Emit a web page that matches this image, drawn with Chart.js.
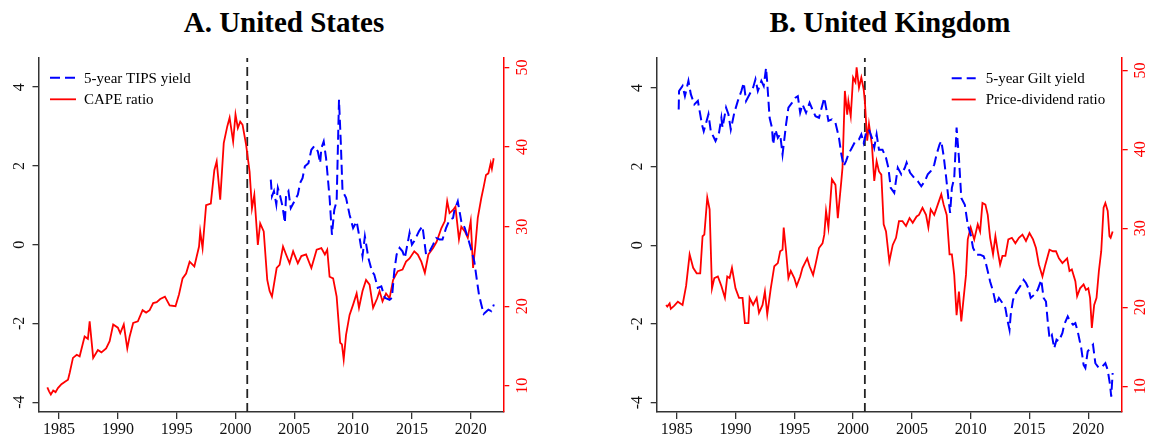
<!DOCTYPE html>
<html><head><meta charset="utf-8">
<script src="https://cdn.jsdelivr.net/npm/chart.js@4.4.0/dist/chart.umd.min.js"></script>
<style>
html,body{margin:0;padding:0;background:#fff;}
#wrap{position:relative;width:1149px;height:434px;overflow:hidden;background:#fff;}
.panel{position:absolute;top:0;height:434px;}
.title{position:absolute;top:6px;height:32px;line-height:32px;font:bold 29px "Liberation Serif",serif;color:#000;text-align:center;white-space:nowrap;}
</style></head><body>
<div id="wrap">
<div class="title" style="left:84px;width:400px">A. United States</div>
<div class="title" style="left:690px;width:400px">B. United Kingdom</div>
<div class="panel" style="left:0;width:580px"><canvas id="cA"></canvas></div>
<div class="panel" style="left:580px;width:569px"><canvas id="cB"></canvas></div>
</div>
<script>
// ---------- axis ticks ----------
const xTicks = [1985, 1990, 1995, 2000, 2005, 2010, 2015, 2020];
const leftTicks = [-4, -2, 0, 2, 4];
const rightTicks = [10, 20, 30, 40, 50];
const breakYear = 2001;

// ---------- Panel A: United States ----------
const usCapeYears = [1984.0,1984.15,1984.3,1984.5,1984.7,1984.9,1985.2,1985.5,1985.76,1985.9,1986.18,1986.5,1986.75,1987.17,1987.45,1987.6,1987.9,1988.3,1988.6,1989.0,1989.3,1989.6,1990.0,1990.2,1990.5,1990.8,1991.0,1991.3,1991.7,1992.1,1992.4,1992.7,1993.0,1993.3,1993.6,1994.0,1994.4,1994.9,1995.2,1995.5,1995.8,1996.1,1996.5,1996.9,1997.0,1997.2,1997.5,1997.9,1998.2,1998.4,1998.7,1999.0,1999.3,1999.5,1999.8,2000.0,2000.2,2000.4,2000.6,2000.9,2001.2,2001.4,2001.6,2001.9,2002.1,2002.4,2002.7,2002.9,2003.1,2003.5,2003.75,2004.04,2004.3,2004.6,2004.9,2005.3,2005.6,2006.0,2006.45,2006.9,2007.3,2007.6,2007.8,2008.0,2008.3,2008.6,2008.9,2009.05,2009.2,2009.4,2009.7,2010.0,2010.3,2010.5,2010.8,2011.1,2011.4,2011.7,2012.05,2012.25,2012.5,2012.8,2013.1,2013.4,2013.8,2014.2,2014.5,2014.8,2015.2,2015.5,2015.8,2016.1,2016.4,2016.8,2017.1,2017.5,2017.8,2018.0,2018.2,2018.5,2018.7,2019.0,2019.2,2019.5,2019.75,2020.0,2020.2,2020.4,2020.6,2020.9,2021.1,2021.3,2021.5,2021.7,2021.8,2021.95];
const usCape = [9.8,9.3,8.9,9.4,9.2,9.7,10.2,10.5,10.75,11.6,13.5,13.9,13.7,16.2,15.9,18.1,13.5,14.5,14.2,14.7,15.6,17.7,17.3,16.6,17.7,14.7,16.2,17.9,18.1,19.5,19.2,19.5,20.4,20.5,20.9,21.2,20.1,20.0,21.5,23.5,24.1,25.6,25.0,27.5,29.4,27.3,32.7,32.9,37.1,38.2,33.4,40.5,42.6,43.7,40.7,44.1,42.4,43.2,42.8,40.3,36.9,32.3,34.0,27.7,30.4,29.4,23.3,21.9,21.2,24.8,25.2,27.5,26.5,25.4,26.9,25.4,26.3,26.5,24.8,27.1,27.3,26.5,27.1,23.7,23.5,21.2,15.4,15.2,13.3,16.4,18.9,20.2,21.6,19.8,21.9,23.3,22.7,19.8,21.0,21.9,20.6,21.6,21.0,23.3,24.4,24.6,25.6,26.0,26.9,26.5,25.6,24.2,26.5,27.3,28.1,29.8,30.7,33.2,31.7,32.1,32.5,28.4,30.0,29.4,28.6,30.7,24.8,27.7,31.1,33.6,35.0,36.5,36.7,38.0,37.3,38.6];
const tipsYears = [2003.0,2003.1,2003.27,2003.47,2003.6,2003.8,2004.0,2004.2,2004.3,2004.5,2004.7,2005.0,2005.3,2005.5,2005.7,2005.9,2006.2,2006.45,2006.7,2007.0,2007.2,2007.3,2007.5,2007.7,2008.0,2008.2,2008.4,2008.6,2008.8,2008.95,2009.1,2009.4,2009.7,2010.0,2010.3,2010.55,2010.8,2011.0,2011.3,2011.6,2011.8,2012.1,2012.4,2012.7,2013.1,2013.3,2013.5,2013.7,2013.95,2014.2,2014.4,2014.8,2015.0,2015.2,2015.6,2015.9,2016.2,2016.5,2016.8,2017.05,2017.35,2017.6,2017.9,2018.2,2018.5,2018.6,2018.9,2019.2,2019.5,2019.8,2020.0,2020.3,2020.5,2020.7,2020.9,2021.1,2021.35,2021.5,2021.75,2021.97];
const tipsYield = [1.65,1.23,1.36,1.02,1.44,1.23,0.97,0.55,1.27,1.36,0.93,1.10,1.27,1.57,1.69,1.99,2.07,2.41,2.50,2.37,2.07,2.45,2.62,2.20,1.19,0.25,0.89,1.10,3.68,2.62,1.36,1.19,0.76,0.42,0.59,0.17,-0.29,0.21,-0.34,-0.68,-0.76,-1.10,-1.06,-1.35,-1.40,-1.35,-0.68,-0.25,-0.08,-0.17,-0.34,0.30,0.00,0.09,0.34,0.47,-0.25,-0.17,0.00,0.17,0.13,0.13,0.42,0.63,0.68,0.85,1.10,0.59,0.42,0.13,-0.08,-0.42,-0.85,-1.27,-1.52,-1.76,-1.69,-1.65,-1.69,-1.52];

// ---------- Panel B: United Kingdom ----------
const ukPdYears = [1984.1,1984.2,1984.4,1984.5,1984.8,1985.1,1985.5,1985.8,1986.1,1986.4,1986.7,1987.0,1987.2,1987.35,1987.6,1987.8,1988.0,1988.2,1988.5,1988.8,1989.1,1989.3,1989.5,1989.7,1990.0,1990.3,1990.6,1990.8,1991.1,1991.2,1991.5,1991.8,1992.0,1992.3,1992.5,1992.7,1993.0,1993.3,1993.6,1993.8,1994.0,1994.1,1994.3,1994.5,1994.7,1995.0,1995.2,1995.5,1995.7,1996.1,1996.3,1996.6,1996.8,1997.1,1997.4,1997.55,1997.7,1997.9,1998.2,1998.5,1998.7,1999.0,1999.1,1999.3,1999.5,1999.6,1999.8,2000.0,2000.2,2000.3,2000.5,2000.7,2000.9,2001.0,2001.2,2001.35,2001.6,2001.8,2002.0,2002.2,2002.4,2002.6,2002.8,2003.08,2003.37,2003.65,2003.9,2004.2,2004.5,2004.8,2005.07,2005.4,2005.6,2005.9,2006.2,2006.4,2006.6,2006.9,2007.2,2007.5,2007.7,2007.96,2008.2,2008.4,2008.6,2008.8,2009.0,2009.2,2009.4,2009.6,2009.75,2010.0,2010.3,2010.6,2010.8,2011.0,2011.25,2011.45,2011.65,2011.9,2012.1,2012.3,2012.5,2012.7,2012.95,2013.2,2013.5,2013.8,2014.1,2014.4,2014.7,2015.0,2015.3,2015.55,2015.8,2016.1,2016.35,2016.7,2017.0,2017.25,2017.5,2017.8,2018.2,2018.4,2018.6,2018.9,2019.05,2019.3,2019.6,2019.8,2020.0,2020.15,2020.3,2020.5,2020.7,2020.9,2021.1,2021.3,2021.45,2021.65,2021.8,2021.9,2022.07];
const ukPd = [20.3,20.1,20.5,19.8,20.2,20.7,20.3,22.7,26.7,25.0,24.3,24.3,29.0,29.2,33.9,32.4,22.4,23.7,23.9,22.7,21.2,23.9,23.7,25.0,22.4,21.2,21.2,18.0,18.0,21.2,20.3,21.2,19.3,20.3,22.0,19.1,22.4,25.2,25.6,27.1,27.3,30.1,27.1,23.7,24.6,23.7,22.7,23.9,25.0,26.2,25.2,24.1,25.4,27.5,28.1,29.2,32.2,30.1,36.2,35.5,31.3,36.0,37.7,47.4,44.4,46.1,44.2,49.1,48.5,50.4,47.8,49.1,47.6,46.1,41.1,43.2,40.6,36.0,38.5,37.2,36.8,30.5,29.6,25.8,27.9,28.8,30.9,30.9,30.3,31.3,30.7,31.5,31.7,32.6,31.7,30.1,32.4,31.7,33.0,34.3,33.0,31.7,26.7,26.7,24.1,19.0,22.0,18.2,21.2,24.1,28.6,30.1,28.6,30.5,29.6,33.2,33.0,31.7,28.8,26.7,29.0,27.1,25.4,26.5,26.5,28.6,28.8,28.1,28.8,29.2,28.4,29.4,28.6,27.5,25.4,23.9,25.4,27.3,27.1,27.1,26.2,25.6,26.2,24.6,24.8,23.3,21.4,22.4,22.9,22.2,22.4,21.2,17.4,20.3,21.2,24.6,27.1,32.6,33.2,32.2,29.0,28.8,29.6];
const giltYears = [1985.17,1985.2,1985.5,1985.7,1986.0,1986.2,1986.5,1986.8,1987.15,1987.3,1987.5,1987.7,1987.9,1988.3,1988.6,1988.8,1988.9,1989.2,1989.4,1989.6,1989.9,1990.2,1990.5,1990.7,1990.9,1991.2,1991.5,1991.7,1991.9,1992.2,1992.4,1992.6,1992.7,1992.9,1993.1,1993.2,1993.4,1993.6,1993.8,1994.0,1994.3,1994.5,1994.8,1995.1,1995.3,1995.5,1995.7,1996.0,1996.3,1996.6,1996.8,1997.1,1997.4,1997.55,1997.7,1997.9,1998.2,1998.5,1998.8,1999.0,1999.2,1999.4,1999.6,1999.9,2000.2,2000.5,2000.7,2000.9,2001.1,2001.35,2001.6,2001.8,2002.0,2002.2,2002.5,2002.8,2003.0,2003.2,2003.5,2003.8,2004.1,2004.4,2004.55,2004.85,2005.2,2005.5,2005.8,2006.1,2006.35,2006.6,2006.9,2007.1,2007.35,2007.5,2007.7,2007.9,2008.1,2008.25,2008.4,2008.6,2008.8,2009.0,2009.2,2009.5,2009.75,2010.0,2010.2,2010.5,2010.8,2011.1,2011.25,2011.45,2011.65,2011.9,2012.15,2012.4,2012.7,2012.95,2013.15,2013.3,2013.4,2013.6,2013.85,2014.1,2014.3,2014.5,2014.7,2014.9,2015.1,2015.4,2015.7,2016.0,2016.2,2016.4,2016.55,2016.7,2016.9,2017.1,2017.3,2017.5,2017.8,2017.95,2018.25,2018.45,2018.7,2018.9,2019.1,2019.4,2019.6,2019.75,2019.95,2020.15,2020.4,2020.6,2020.9,2021.2,2021.45,2021.65,2021.85,2021.95,2022.07];
const giltYield = [3.45,3.92,4.05,3.79,4.18,3.84,3.58,3.67,3.07,2.90,3.11,3.33,2.90,2.65,2.86,3.24,2.99,3.50,3.33,2.94,3.37,3.67,3.92,4.13,3.67,3.84,4.01,4.22,3.92,4.18,4.05,4.51,4.13,3.24,2.99,2.56,2.94,2.73,2.82,2.31,3.07,3.50,3.62,3.75,3.79,3.37,3.58,3.37,3.62,3.41,3.28,3.24,3.58,3.75,3.50,3.16,3.20,3.11,2.73,2.31,2.01,2.14,2.31,2.48,2.65,2.69,2.82,2.60,2.86,2.94,2.73,2.48,2.82,2.43,2.43,2.22,1.97,1.46,1.33,1.97,1.80,1.97,2.10,1.84,1.71,1.63,1.50,1.63,1.80,1.88,2.05,2.31,2.56,2.65,2.27,1.76,1.20,0.82,1.46,1.71,2.99,2.22,1.20,1.03,0.52,0.27,-0.07,-0.24,-0.24,-0.28,-0.41,-0.66,-0.92,-1.17,-1.51,-1.34,-1.47,-1.60,-1.94,-2.15,-1.77,-1.39,-1.21,-1.09,-1.00,-0.88,-0.96,-1.09,-1.34,-1.26,-1.13,-0.88,-1.34,-1.43,-1.94,-2.36,-2.28,-2.62,-2.40,-2.44,-2.23,-2.02,-1.81,-1.94,-2.02,-1.98,-2.19,-2.62,-3.04,-3.12,-2.70,-2.62,-2.53,-3.00,-3.12,-3.08,-3.00,-3.17,-3.55,-3.85,-3.25];

// ---------- helpers ----------
function pts(xs, ys) { return xs.map((x, i) => ({ x: x, y: ys[i] })); }
const SERIF = '"Liberation Serif", "Times New Roman", serif';

const insideLegend = {
  id: 'insideLegend',
  afterDatasetsDraw(chart, args, o) {
    const ctx = chart.ctx;
    ctx.save();
    ctx.font = '15px ' + SERIF;
    ctx.textBaseline = 'middle';
    ctx.textAlign = 'left';
    o.items.forEach((idx, i) => {
      const ds = chart.data.datasets[idx];
      const y = o.y + i * o.dy;
      ctx.strokeStyle = ds.borderColor;
      ctx.lineWidth = ds.borderWidth;
      ctx.setLineDash(ds.borderDash || []);
      ctx.beginPath();
      ctx.moveTo(o.x, y);
      ctx.lineTo(o.x + o.len, y);
      ctx.stroke();
      ctx.setLineDash([]);
      ctx.fillStyle = '#000';
      ctx.fillText(ds.label, o.x + o.len + o.gap, y + 1);
    });
    ctx.restore();
  }
};

function makeChart(id, c) {
  const axisFont = { family: SERIF, size: 16 };
  return new Chart(document.getElementById(id), {
    type: 'line',
    data: {
      datasets: [
        { label: c.blueLabel, data: pts(c.bx, c.by), yAxisID: 'yL', borderColor: '#0000FF', borderWidth: 2, borderDash: [10, 5], pointRadius: 0, tension: 0, fill: false },
        { label: c.redLabel, data: pts(c.rx, c.ry), yAxisID: 'yR', borderColor: '#FF0000', borderWidth: 1.8, pointRadius: 0, tension: 0, fill: false },
        { label: 'break', data: [{ x: breakYear, y: c.yL[0] }, { x: breakYear, y: c.yL[1] }], yAxisID: 'yL', borderColor: '#222', borderWidth: 1.8, borderDash: [9, 5], pointRadius: 0, fill: false }
      ]
    },
    options: {
      responsive: true, maintainAspectRatio: false, animation: false,
      layout: { padding: { top: 58, left: 0, right: 0, bottom: 0 } },
      plugins: { legend: { display: false }, tooltip: { enabled: false }, title: { display: false },
        insideLegend: c.legend },
      scales: {
        x: {
          type: 'linear', position: 'bottom', min: c.x[0], max: c.x[1],
          afterBuildTicks: s => { s.ticks = xTicks.map(v => ({ value: v })); },
          afterFit: s => { s.height = 22; },
          grid: { drawOnChartArea: false, drawTicks: true, tickLength: 7, color: '#333', lineWidth: 1.3 },
          border: { display: true, color: '#333', width: 1.5 },
          ticks: { font: axisFont, color: '#111', padding: 1, minRotation: 0, maxRotation: 0, autoSkip: false, callback: v => String(v) }
        },
        yL: {
          type: 'linear', position: 'left', min: c.yL[0], max: c.yL[1],
          afterBuildTicks: s => { s.ticks = leftTicks.map(v => ({ value: v })); },
          afterFit: s => { s.width = c.leftW; },
          grid: { drawOnChartArea: false, drawTicks: true, tickLength: 6, color: '#333', lineWidth: 1.3 },
          border: { display: true, color: '#333', width: 1.5 },
          ticks: { font: axisFont, color: '#111', padding: 6, minRotation: 90, maxRotation: 90, crossAlign: 'center', callback: v => String(v) }
        },
        yR: {
          type: 'linear', position: 'right', min: c.yR[0], max: c.yR[1],
          afterBuildTicks: s => { s.ticks = rightTicks.map(v => ({ value: v })); },
          afterFit: s => { s.width = c.rightW; },
          grid: { drawOnChartArea: false, drawTicks: true, tickLength: 6, color: '#FF0000', lineWidth: 1.3 },
          border: { display: true, color: '#FF0000', width: 1.5 },
          ticks: { font: axisFont, color: '#FF0000', padding: 5, minRotation: 90, maxRotation: 90, crossAlign: 'center', callback: v => String(v) }
        }
      }
    },
    plugins: [insideLegend]
  });
}

makeChart('cA', {
  blueLabel: '5-year TIPS yield', redLabel: 'CAPE ratio',
  bx: tipsYears, by: tipsYield, rx: usCapeYears, ry: usCape,
  x: [1983.25, 2022.77], yL: [-4.25, 4.74], yR: [6.7, 51.2],
  leftW: 38.5, rightW: 76.7,
  legend: { items: [0, 1], x: 50, y: 77.7, dy: 21.6, len: 26, gap: 8 }
});
makeChart('cB', {
  blueLabel: '5-year Gilt yield', redLabel: 'Price-dividend ratio',
  bx: giltYears, by: giltYield, rx: ukPdYears, ry: ukPd,
  x: [1983.3, 2022.84], yL: [-4.24, 4.76], yR: [6.74, 51.57],
  leftW: 76.7, rightW: 27.3,
  legend: { items: [0, 1], x: 371.7, y: 78.3, dy: 21.2, len: 24, gap: 10 }
});
</script>
</body></html>
